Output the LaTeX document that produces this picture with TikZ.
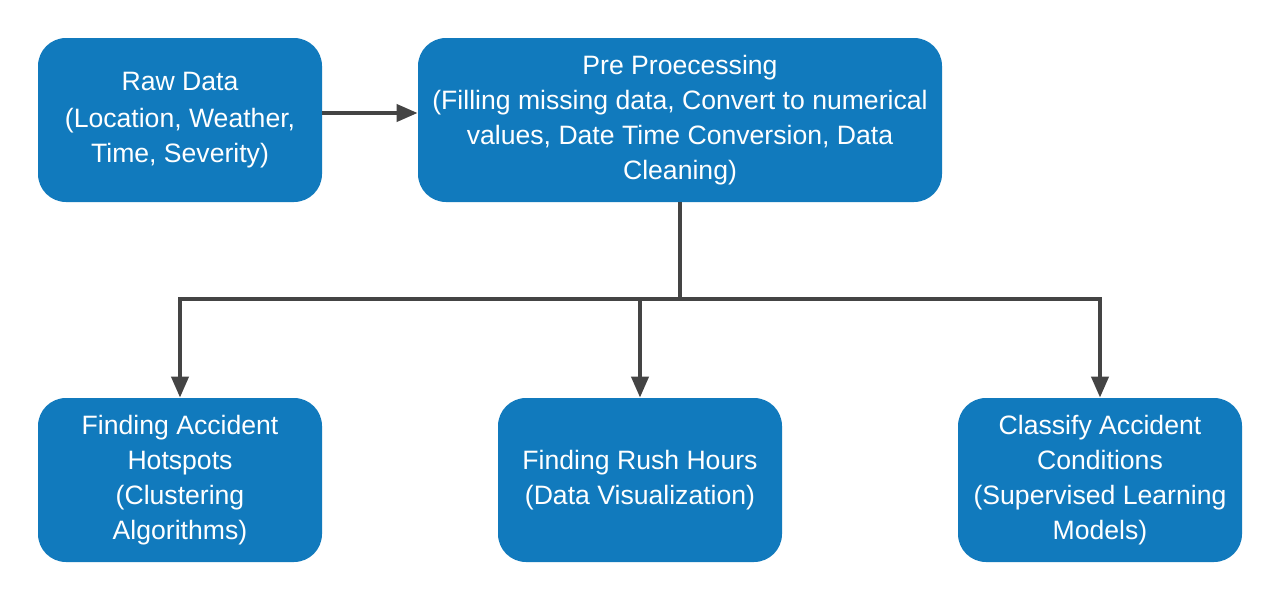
\documentclass[tikz,border=0pt]{standalone}
\usepackage{fontspec}
\setmainfont{Liberation Sans}
\usetikzlibrary{arrows.meta}
\definecolor{boxblue}{RGB}{17,122,189}
\definecolor{linegray}{RGB}{68,68,68}
\tikzset{
  box/.style={draw=none, fill=boxblue, rounded corners=14pt, minimum width=142pt, minimum height=82pt, inner sep=0pt, text=white, align=center, font=\fontsize{13.3pt}{17.5pt}\selectfont},
  wide/.style={box, minimum width=262pt},
  conn/.style={draw=linegray, line width=2pt},
  arr/.style={conn, -{Triangle[length=10.5pt,width=8.5pt]}}
}
\begin{document}
\begin{tikzpicture}[x=0.5pt,y=-0.5pt]
\useasboundingbox[fill=white] (0,0) rectangle (1280,600);
\node[box] (raw) at (180,120) {\raisebox{1pt}{Raw Data}\\(Location, Weather,\\Time, Severity)};
\node[wide] (pre) at (680,120) {Pre Proecessing\\(Filling missing data, Convert to numerical\\values, Date Time Conversion, Data\\Cleaning)};
\node[box] (hot) at (180,480) {Finding Accident\\Hotspots\\(Clustering\\Algorithms)};
\node[box] (rush) at (640,480) {Finding Rush Hours\\(Data Visualization)};
\node[box] (cls) at (1100,480) {Classify Accident\\Conditions\\(Supervised Learning\\Models)};
\coordinate (j) at (680,299);
\coordinate (jl) at (180,299);
\coordinate (jm) at (640,299);
\coordinate (jr) at (1100,299);
\draw[arr] (raw.east |- 0,113) -- (pre.west |- 0,113);
\draw[conn] (pre.south) -- (j);
\draw[conn, line cap=rect] (jl) -- (jr);
\draw[arr] (jl) -- (hot.north);
\draw[arr] (jm) -- (rush.north);
\draw[arr] (jr) -- (cls.north);
\end{tikzpicture}
\end{document}
